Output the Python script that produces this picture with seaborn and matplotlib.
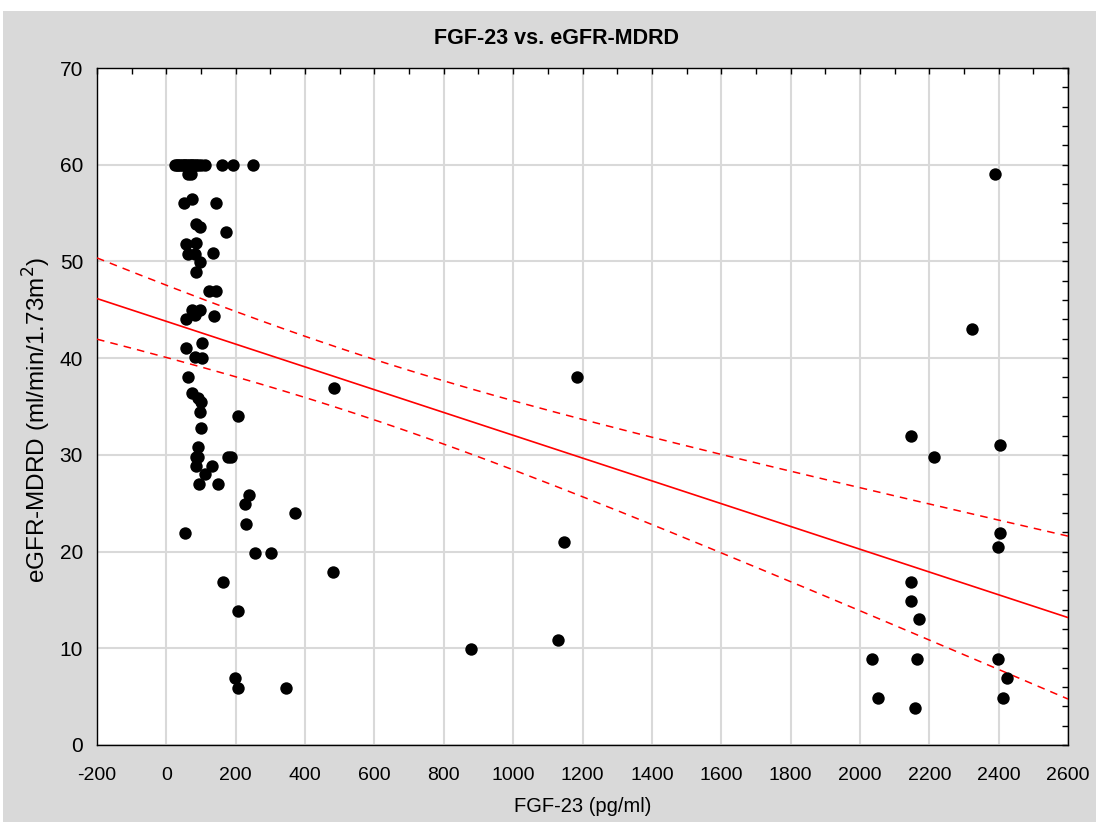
import numpy as np
import pandas as pd
import matplotlib
matplotlib.use('Agg')
import matplotlib.pyplot as plt
from matplotlib.ticker import MultipleLocator
from matplotlib.patches import Rectangle
import seaborn as sns

sns.set_theme(style='white')
plt.rcParams['font.family'] = ['Liberation Sans', 'DejaVu Sans']
plt.rcParams['axes.unicode_minus'] = False
plt.rcParams['text.color'] = 'black'
plt.rcParams['axes.labelcolor'] = 'black'

# data (the 60 row is capped and heavily overplotted)
fgf23 = [25, 30, 35, 40, 45, 50, 55, 60, 65, 70, 75, 80, 85, 90, 100, 110,
         161, 193, 251,
         62, 70,
         52, 75, 144,
         86, 98, 173,
         58, 86,
         61, 84, 135,
         98, 86,
         124, 144,
         75, 98, 84, 138, 58,
         58, 104, 84, 104,
         63, 484, 75, 92, 101, 98, 207, 101,
         92, 86, 92, 179, 187, 86, 133, 110, 95, 150,
         239, 228, 372, 231, 55, 256, 303, 481, 164, 207, 199, 207, 346,
         1184, 1147, 1130, 879,
         2389, 2323, 2147, 2213, 2403, 2403, 2398, 2147, 2147, 2170,
         2035, 2164, 2398, 2424, 2052, 2159, 2412]
egfr = [60, 60, 60, 60, 60, 60, 60, 60, 60, 60, 60, 60, 60, 60, 60, 60,
        60, 60, 60,
        59, 59,
        56, 56.5, 56,
        53.9, 53.6, 53,
        51.8, 51.9,
        50.8, 50.8, 50.9,
        49.9, 48.9,
        46.9, 46.9,
        45, 45, 44.5, 44.4, 44,
        41.1, 41.6, 40.1, 40,
        38, 36.9, 36.4, 35.9, 35.5, 34.4, 34, 32.8,
        30.8, 29.8, 29.8, 29.8, 29.8, 28.8, 28.8, 28, 27, 27,
        25.9, 24.9, 24, 22.8, 21.9, 19.9, 19.9, 17.9, 16.9, 13.9, 6.9, 5.9, 5.9,
        38, 21, 10.9, 9.9,
        59, 43, 31.9, 29.8, 31, 21.9, 20.5, 16.9, 14.9, 13,
        8.9, 8.9, 8.9, 6.9, 4.9, 3.8, 4.9]

df = pd.DataFrame({'FGF23': fgf23, 'eGFR': egfr})

# linear fit with 95% confidence band
x = df['FGF23'].to_numpy(float)
y = df['eGFR'].to_numpy(float)
n = len(x)
slope, intercept = np.polyfit(x, y, 1)
resid = y - (intercept + slope * x)
s = np.sqrt(np.sum(resid ** 2) / (n - 2))
sxx = np.sum((x - x.mean()) ** 2)
t = 1.984
grid = np.linspace(-200, 2600, 200)
fit = intercept + slope * grid
half = t * s * np.sqrt(1 / n + (grid - x.mean()) ** 2 / sxx)
band = pd.DataFrame({'x': grid, 'fit': fit, 'lo': fit - half, 'hi': fit + half})

fig = plt.figure(figsize=(10.96, 8.25), dpi=100, facecolor='white')
fig.patches.append(Rectangle((3 / 1096, 3 / 825), 1093 / 1096, 811 / 825,
                             transform=fig.transFigure, facecolor='#d9d9d9',
                             edgecolor='none', zorder=-10))
ax = fig.add_axes([97 / 1096, 80 / 825, 971 / 1096, 677 / 825])
ax.set_zorder(1)
ax.set_facecolor('white')

sns.lineplot(data=band, x='x', y='fit', color='red', lw=1.2, ax=ax, zorder=3)
sns.lineplot(data=band, x='x', y='lo', color='red', lw=1.1, ax=ax, zorder=3,
             linestyle=(0, (5, 4)))
sns.lineplot(data=band, x='x', y='hi', color='red', lw=1.1, ax=ax, zorder=3,
             linestyle=(0, (5, 4)))
sns.scatterplot(data=df, x='FGF23', y='eGFR', color='black', s=80,
                edgecolor='black', linewidth=0, ax=ax, zorder=4, clip_on=False)

ax.set_xlim(-200, 2600)
ax.set_ylim(0, 70)
ax.xaxis.set_major_locator(MultipleLocator(200))
ax.xaxis.set_minor_locator(MultipleLocator(100))
ax.yaxis.set_major_locator(MultipleLocator(10))
ax.yaxis.set_minor_locator(MultipleLocator(2))
ax.tick_params(which='both', direction='in', top=True, right=True,
               length=4, width=1, color='black', labelcolor='black')
ax.tick_params(axis='y', labelsize=15, pad=10)
ax.tick_params(axis='x', labelsize=14, pad=16)
ax.grid(True, which='major', color='#d9d9d9', lw=1.5, zorder=0)
for sp in ax.spines.values():
    sp.set_color('black')
    sp.set_linewidth(1)

fig.text(556 / 1096, 1 - 38 / 825, 'FGF-23 vs. eGFR-MDRD', fontsize=15.5,
         fontweight='bold', ha='center', va='center')
ax.set_xlabel('FGF-23 (pg/ml)', fontsize=14.5, labelpad=9)
ax.set_ylabel('eGFR-MDRD (ml/min/1.73m$^2$)', fontsize=17.5)
ax.yaxis.set_label_coords(-0.045, 0.48)

fig.savefig('out.png', dpi=100)
